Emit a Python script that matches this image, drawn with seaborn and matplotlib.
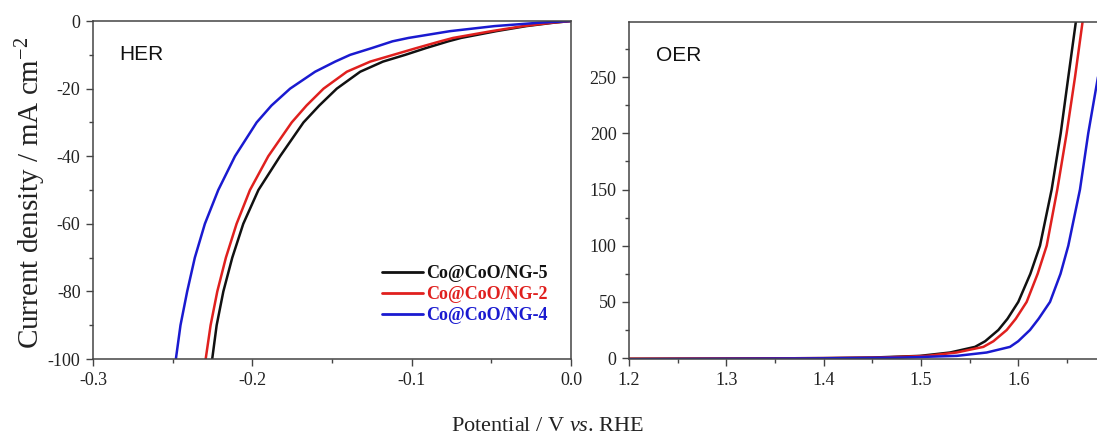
import numpy as np
import pandas as pd
import matplotlib
matplotlib.use("Agg")
import matplotlib.pyplot as plt
from matplotlib.ticker import MultipleLocator, FuncFormatter
import seaborn as sns

# ---------------- data ----------------
series_names = ["Co@CoO/NG-5", "Co@CoO/NG-2", "Co@CoO/NG-4"]
series_colors = ["#111111", "#e0201e", "#1a1ad0"]

# HER: current density (mA cm-2) and potential (V vs RHE) per series
her_j = [-100, -90, -80, -70, -60, -50, -40, -30, -25, -20, -15, -12, -10, -8, -6, -5, -3, -1.5, -0.5, 0]
her_E_ng5 = [-0.2252, -0.2224, -0.2182, -0.2126, -0.2057, -0.1962, -0.1826, -0.1679, -0.1580,
             -0.1470, -0.1323, -0.1180, -0.1040, -0.0910, -0.0770, -0.0690, -0.0470, -0.0280, -0.0110, 0.0]
her_E_ng2 = [-0.2293, -0.2262, -0.2220, -0.2166, -0.2099, -0.2015, -0.1900, -0.1753, -0.1660,
             -0.1553, -0.1407, -0.1260, -0.1115, -0.0970, -0.0820, -0.0740, -0.0500, -0.0300, -0.0120, 0.0]
her_E_ng4 = [-0.2480, -0.2451, -0.2409, -0.2361, -0.2298, -0.2214, -0.2109, -0.1973, -0.1880,
             -0.1763, -0.1606, -0.1480, -0.1386, -0.1250, -0.1120, -0.1020, -0.0760, -0.0480, -0.0200, 0.0]

# OER: current density (mA cm-2) and potential (V vs RHE) per series
oer_j = [-0.6, -0.4, 0.0, 0.5, 2, 5, 10, 15, 25, 35, 50, 75, 100, 150, 200, 250, 300]
oer_j_ng4 = [-1.0, -0.6, -0.2, 0.5, 2, 5, 10, 15, 25, 35, 50, 75, 100, 150, 200, 250, 300]
oer_E_ng5 = [1.20, 1.30, 1.40, 1.45, 1.499, 1.530, 1.5556, 1.566, 1.5796, 1.589, 1.6001, 1.6125,
             1.6224, 1.6344, 1.6437, 1.6515, 1.6594]
oer_E_ng2 = [1.20, 1.30, 1.40, 1.46, 1.506, 1.5367, 1.5642, 1.5745, 1.5882, 1.5975, 1.6087, 1.620,
             1.6293, 1.6402, 1.6498, 1.6584, 1.6663]
oer_E_ng4 = [1.20, 1.30, 1.40, 1.48, 1.537, 1.5676, 1.5916, 1.600, 1.6121, 1.621, 1.6327, 1.6435,
             1.6515, 1.6635, 1.672, 1.682, 1.690]

her_df = pd.concat([
    pd.DataFrame({"E": her_E_ng5, "j": her_j, "sample": series_names[0]}),
    pd.DataFrame({"E": her_E_ng2, "j": her_j, "sample": series_names[1]}),
    pd.DataFrame({"E": her_E_ng4, "j": her_j, "sample": series_names[2]}),
], ignore_index=True)
oer_df = pd.concat([
    pd.DataFrame({"E": oer_E_ng5, "j": oer_j, "sample": series_names[0]}),
    pd.DataFrame({"E": oer_E_ng2, "j": oer_j, "sample": series_names[1]}),
    pd.DataFrame({"E": oer_E_ng4, "j": oer_j_ng4, "sample": series_names[2]}),
], ignore_index=True)

# ---------------- style ----------------
sns.set_theme(style="ticks")
plt.rcParams["font.family"] = ["Liberation Serif", "DejaVu Serif"]
plt.rcParams["mathtext.fontset"] = "custom"
plt.rcParams["mathtext.rm"] = "Liberation Serif"
plt.rcParams["mathtext.it"] = "Liberation Serif:italic"
plt.rcParams["mathtext.bf"] = "Liberation Serif:bold"
plt.rcParams["axes.edgecolor"] = "#444444"
plt.rcParams["xtick.color"] = "#444444"
plt.rcParams["ytick.color"] = "#444444"
plt.rcParams["xtick.labelcolor"] = "#222222"
plt.rcParams["ytick.labelcolor"] = "#222222"

palette = dict(zip(series_names, series_colors))

fig = plt.figure(figsize=(10.97, 4.41), dpi=100)
ax1 = fig.add_axes([0.0848, 0.1859, 0.4357, 0.7664])
ax2 = fig.add_axes([0.5734, 0.1859, 0.4266, 0.7642])

for ax, df in ((ax1, her_df), (ax2, oer_df)):
    sns.lineplot(data=df, x="E", y="j", hue="sample", palette=palette,
                 hue_order=series_names, sort=False, estimator=None,
                 linewidth=1.8, ax=ax, legend=(ax is ax1))
    ax.set_xlabel("")
    ax.set_ylabel("")
    for s in ax.spines.values():
        s.set_linewidth(1.1)
    ax.tick_params(which="major", length=5, width=1.0, labelsize=13, pad=4)
    ax.tick_params(which="minor", length=3, width=1.0)

# HER axis
ax1.set_xlim(-0.3, 0.0)
ax1.set_ylim(-100, 0)
ax1.xaxis.set_major_locator(MultipleLocator(0.1))
ax1.xaxis.set_minor_locator(MultipleLocator(0.05))
ax1.yaxis.set_major_locator(MultipleLocator(20))
ax1.yaxis.set_minor_locator(MultipleLocator(10))
ax1.xaxis.set_major_formatter(FuncFormatter(lambda v, p: f"{v:.1f}" if abs(v) > 1e-9 else "0.0"))
ax1.yaxis.set_major_formatter(FuncFormatter(lambda v, p: f"{v:.0f}"))
ax1.text(0.055, 0.9, "HER", transform=ax1.transAxes, fontsize=15,
         family=["Liberation Sans", "DejaVu Sans"], va="center", ha="left", color="#111111")

handles, labels = ax1.get_legend_handles_labels()
leg = ax1.legend(handles, labels, loc="upper left", bbox_to_anchor=(0.585, 0.305),
                 frameon=False, handlelength=2.3, handletextpad=0.15, labelspacing=0.22,
                 borderpad=0, prop={"family": "Liberation Serif", "weight": "bold", "size": 13},
                 labelcolor="linecolor")
for ln in leg.get_lines():
    ln.set_linewidth(2.0)

# OER axis
ax2.set_xlim(1.2, 1.681)
ax2.set_ylim(-0.8, 299)
ax2.xaxis.set_major_locator(MultipleLocator(0.1))
ax2.xaxis.set_minor_locator(MultipleLocator(0.05))
ax2.yaxis.set_major_locator(MultipleLocator(50))
ax2.yaxis.set_minor_locator(MultipleLocator(25))
ax2.xaxis.set_major_formatter(FuncFormatter(lambda v, p: f"{v:.1f}"))
ax2.yaxis.set_major_formatter(FuncFormatter(lambda v, p: f"{v:.0f}"))
ax2.spines["right"].set_visible(False)
ax2.text(0.058, 0.9, "OER", transform=ax2.transAxes, fontsize=15,
         family=["Liberation Sans", "DejaVu Sans"], va="center", ha="left", color="#111111")

fig.text(0.028, 0.562, "Current density / mA cm$^{-2}$", rotation=90, ha="center", va="center",
         fontsize=21, color="#222222")
fig.text(0.4995, 0.032, "Potential / V $\\it{vs}$. RHE", ha="center", va="center",
         fontsize=16, color="#222222")

fig.savefig("out.png", dpi=100)
